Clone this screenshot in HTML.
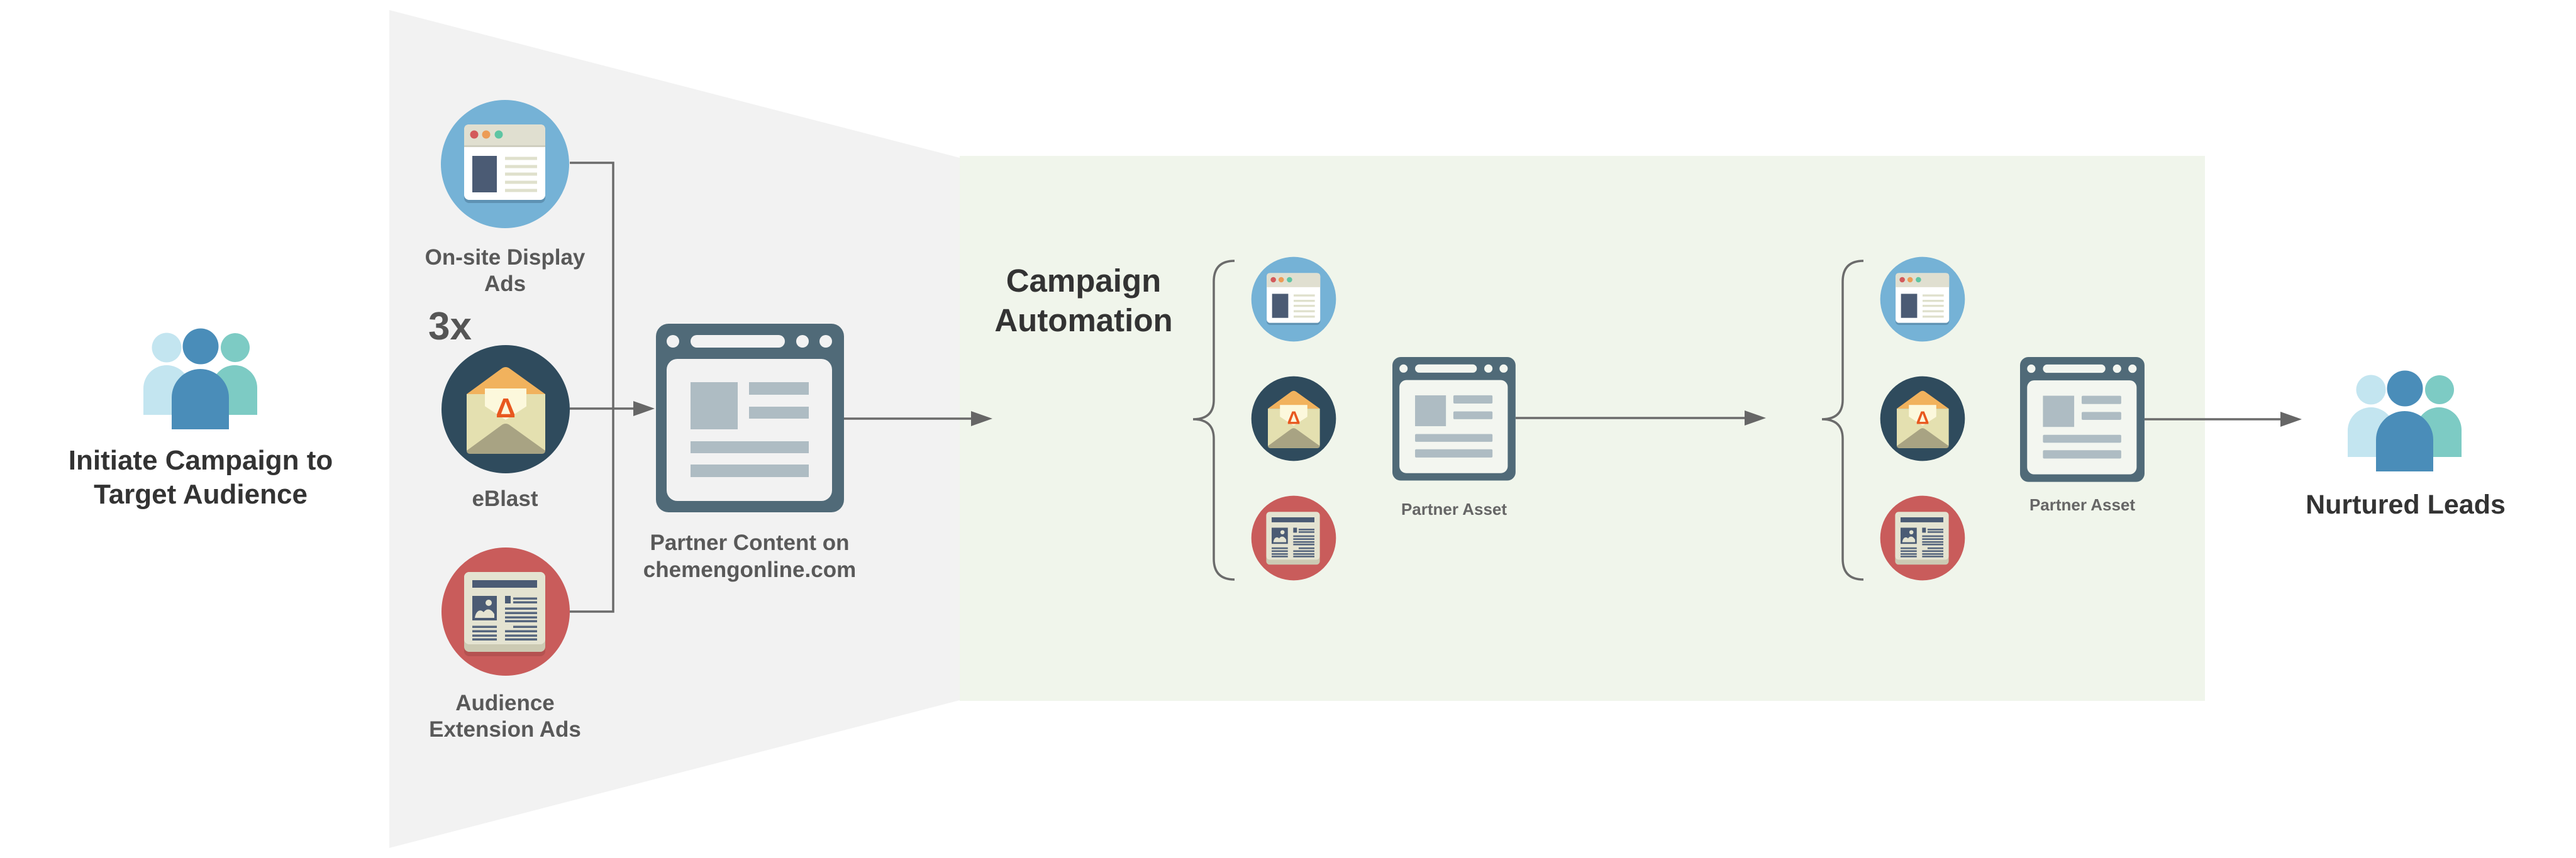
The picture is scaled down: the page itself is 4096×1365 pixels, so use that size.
<!DOCTYPE html>
<html>
<head>
<meta charset="utf-8">
<style>
html,body{margin:0;padding:0;background:#ffffff;width:4096px;height:1365px;overflow:hidden;}
svg{display:block;}
</style>
</head>
<body>
<svg width="4096" height="1365" viewBox="0 0 4096 1365" xmlns="http://www.w3.org/2000/svg" font-family="'Liberation Sans', Arial, sans-serif">
<rect x="0" y="0" width="4096" height="1365" fill="#ffffff"/>

<!-- gray funnel -->
<polygon points="619,16 1530,252 1530,1113 619,1349" fill="#f2f2f2"/>
<!-- green automation area -->
<rect x="1526" y="248" width="1980" height="867" fill="#f0f5eb"/>

<!-- LEFT PEOPLE -->
<g>
  <path d="M228,660 V618 A37,37 0 0 1 302,618 V660 Z" fill="#c3e5f0"/>
  <path d="M337,660 V617 A36,36 0 0 1 409,617 V660 Z" fill="#7dcbc4"/>
  <path d="M273,683 V632.5 A45.5,45.5 0 0 1 364,632.5 V683 Z" fill="#4a8db9"/>
  <circle cx="265" cy="553" r="23.5" fill="#c3e5f0"/>
  <circle cx="374" cy="553" r="23" fill="#7dcbc4"/>
  <circle cx="319" cy="551" r="28.5" fill="#4a8db9"/>
</g>
<text x="319" y="747" font-size="44" font-weight="bold" fill="#333333" text-anchor="middle">Initiate Campaign to</text>
<text x="319" y="801" font-size="44" font-weight="bold" fill="#333333" text-anchor="middle">Target Audience</text>

<!-- connectors -->
<g stroke="#6b6b6b" stroke-width="3.5" fill="none">
  <polyline points="906,259 975,259 975,973 906,973"/>
  <line x1="906" y1="650" x2="1010" y2="650"/>
  <line x1="1342" y1="666" x2="1548" y2="666"/>
  <line x1="2410" y1="665" x2="2778" y2="665"/>
  <line x1="3410" y1="667" x2="3630" y2="667"/>
</g>
<g fill="#666666">
  <polygon points="1007,638 1041,650 1007,662"/>
  <polygon points="1544,654 1578,666 1544,678"/>
  <polygon points="2774,653 2808,665 2774,677"/>
  <polygon points="3626,655 3660,667 3626,679"/>
</g>

<!-- BIG ICON: display ads -->
<g transform="translate(803,261)">
  <circle r="102" fill="#75b2d6"/>
  <rect x="-65" y="-58" width="129" height="120" rx="8" fill="#5e92b3"/>
  <rect x="-65" y="-63" width="129" height="120" rx="8" fill="#ffffff"/>
  <path d="M-65,-29 V-55 Q-65,-63 -57,-63 H56 Q64,-63 64,-55 V-29 Z" fill="#e0dfd0"/>
  <rect x="-65" y="-30" width="129" height="3" fill="#cfcebf"/>
  <circle cx="-49" cy="-47" r="6.5" fill="#d35a5b"/>
  <circle cx="-30" cy="-47" r="6.5" fill="#ec9c56"/>
  <circle cx="-10" cy="-47" r="6.5" fill="#5ec5a3"/>
  <rect x="-52" y="-13" width="39" height="58" fill="#4b5b74"/>
  <g fill="#dfe0cc">
    <rect x="0" y="-11.5" width="51" height="5"/>
    <rect x="0" y="1.5" width="51" height="5"/>
    <rect x="0" y="13.5" width="51" height="5"/>
    <rect x="0" y="26.5" width="51" height="5"/>
    <rect x="0" y="39.5" width="51" height="5"/>
  </g>
</g>
<text x="803" y="421" font-size="35" font-weight="bold" fill="#595959" text-anchor="middle">On-site Display</text>
<text x="803" y="463" font-size="35" font-weight="bold" fill="#595959" text-anchor="middle">Ads</text>

<text x="681" y="540" font-size="62" font-weight="bold" fill="#555555">3x</text>

<!-- BIG ICON: eBlast -->
<g transform="translate(804,651)">
  <circle r="102" fill="#2f4b5d"/>
  <path d="M-62,-24 L-6,-65 Q0,-69 6,-65 L63,-24 Z" fill="#f1b25d"/>
  <path d="M-62,-24 H63 V63 Q63,71 55,71 H-54 Q-62,71 -62,63 Z" fill="#e4e0b0"/>
  <rect x="-33" y="-33" width="66" height="60" fill="#fcf8dc"/>
  <path d="M-62,-24 L0,17 L63,-24 V63 Q63,71 55,71 H-54 Q-62,71 -62,63 Z" fill="#e4e0b0"/>
  <path d="M-62,66 L-6,25 Q0,21 6,25 L63,66 Q63,71 57,71 H-56 Q-62,71 -62,66 Z" fill="#a8a383"/>
  <text x="0" y="13" font-size="44" font-weight="bold" fill="#e8581f" text-anchor="middle">Δ</text>
</g>
<text x="803" y="805" font-size="35" font-weight="bold" fill="#595959" text-anchor="middle">eBlast</text>

<!-- BIG ICON: newspaper -->
<g transform="translate(804,973)">
  <circle r="102" fill="#c95c5b"/>
  <rect x="-66" y="-56" width="129" height="127" rx="8" fill="#a84b4b" opacity="0.6"/>
  <rect x="-66" y="-63" width="129" height="127" rx="8" fill="#cccab3"/>
  <rect x="-66" y="-63" width="129" height="115" rx="8" fill="#e4e3d1"/>
  <rect x="-53" y="-50" width="103" height="12" fill="#4b5b74"/>
  <rect x="-53" y="-25" width="39" height="39" fill="#4b5b74"/>
  <circle cx="-27" cy="-14" r="5" fill="#e4e3d1"/>
  <path d="M-49,10 C-47,-3 -39,-4 -35,1 C-31,-5 -24,-6 -18,4 V10 Z" fill="#e4e3d1"/>
  <rect x="-1" y="-25" width="9" height="12" fill="#4b5b74"/>
  <g fill="#56667e">
    <rect x="12" y="-22.5" width="38" height="3.5"/>
    <rect x="12" y="-16.5" width="38" height="3.5"/>
    <rect x="-1" y="-6.5" width="51" height="3.5"/>
    <rect x="-1" y="0.5" width="51" height="3.5"/>
    <rect x="-1" y="7.5" width="51" height="3.5"/>
    <rect x="-1" y="13.5" width="51" height="3.5"/>
    <rect x="12" y="22.5" width="38" height="3.5"/>
    <rect x="-1" y="29.5" width="51" height="3.5"/>
    <rect x="-1" y="36.5" width="51" height="3.5"/>
    <rect x="-1" y="42.5" width="51" height="3.5"/>
    <rect x="-53" y="22.5" width="39" height="3.5"/>
    <rect x="-53" y="29.5" width="39" height="3.5"/>
    <rect x="-53" y="36.5" width="39" height="3.5"/>
    <rect x="-53" y="42.5" width="39" height="3.5"/>
  </g>
</g>
<text x="803" y="1130" font-size="35" font-weight="bold" fill="#595959" text-anchor="middle">Audience</text>
<text x="803" y="1172" font-size="35" font-weight="bold" fill="#595959" text-anchor="middle">Extension Ads</text>

<!-- Partner Content browser -->
<g transform="translate(1043,515)">
  <rect x="0" y="0" width="299" height="300" rx="20" fill="#506a78"/>
  <circle cx="27" cy="28" r="10" fill="#f2f2f2"/>
  <rect x="55" y="18" width="150" height="20" rx="10" fill="#f2f2f2"/>
  <circle cx="233" cy="28" r="10" fill="#f2f2f2"/>
  <circle cx="270" cy="28" r="10" fill="#f2f2f2"/>
  <rect x="17" y="56" width="263" height="226" rx="17" fill="#f2f2f2"/>
  <g fill="#aebcc3">
    <rect x="55" y="93" width="75" height="75"/>
    <rect x="148" y="93" width="95" height="20"/>
    <rect x="148" y="132" width="95" height="19"/>
    <rect x="55" y="187" width="188" height="19"/>
    <rect x="55" y="224" width="188" height="20"/>
  </g>
</g>
<text x="1192" y="875" font-size="35" font-weight="bold" fill="#595959" text-anchor="middle">Partner Content on</text>
<text x="1192" y="918" font-size="35" font-weight="bold" fill="#595959" text-anchor="middle">chemengonline.com</text>

<!-- Campaign Automation -->
<text x="1723" y="464" font-size="51" font-weight="bold" fill="#333333" text-anchor="middle">Campaign</text>
<text x="1723" y="527" font-size="51" font-weight="bold" fill="#333333" text-anchor="middle">Automation</text>

<!-- Braces -->
<g stroke="#6b6b6b" stroke-width="3.5" fill="none">
  <path d="M1963,415 Q1930,415 1930,448 L1930,636 Q1930,667 1897,667 Q1930,667 1930,698 L1930,889 Q1930,922 1963,922"/>
  <path d="M2963,415 Q2930,415 2930,448 L2930,636 Q2930,667 2897,667 Q2930,667 2930,698 L2930,889 Q2930,922 2963,922"/>
</g>

<!-- Small icon set 1 -->
<g>
<g transform="translate(2057,476) scale(0.66)">
  <circle r="102" fill="#75b2d6"/>
  <rect x="-65" y="-58" width="129" height="120" rx="8" fill="#5e92b3"/>
  <rect x="-65" y="-63" width="129" height="120" rx="8" fill="#ffffff"/>
  <path d="M-65,-29 V-55 Q-65,-63 -57,-63 H56 Q64,-63 64,-55 V-29 Z" fill="#e0dfd0"/>
  <circle cx="-49" cy="-47" r="6.5" fill="#d35a5b"/>
  <circle cx="-30" cy="-47" r="6.5" fill="#ec9c56"/>
  <circle cx="-10" cy="-47" r="6.5" fill="#5ec5a3"/>
  <rect x="-52" y="-13" width="39" height="58" fill="#4b5b74"/>
  <g fill="#dfe0cc">
    <rect x="0" y="-11.5" width="51" height="5"/>
    <rect x="0" y="1.5" width="51" height="5"/>
    <rect x="0" y="13.5" width="51" height="5"/>
    <rect x="0" y="26.5" width="51" height="5"/>
    <rect x="0" y="39.5" width="51" height="5"/>
  </g>
</g>
<g transform="translate(2057,666) scale(0.66)">
  <circle r="102" fill="#2f4b5d"/>
  <path d="M-62,-24 L-6,-65 Q0,-69 6,-65 L63,-24 Z" fill="#f1b25d"/>
  <path d="M-62,-24 H63 V63 Q63,71 55,71 H-54 Q-62,71 -62,63 Z" fill="#e4e0b0"/>
  <rect x="-33" y="-33" width="66" height="60" fill="#fcf8dc"/>
  <path d="M-62,-24 L0,17 L63,-24 V63 Q63,71 55,71 H-54 Q-62,71 -62,63 Z" fill="#e4e0b0"/>
  <path d="M-62,66 L-6,25 Q0,21 6,25 L63,66 Q63,71 57,71 H-56 Q-62,71 -62,66 Z" fill="#a8a383"/>
  <text x="0" y="13" font-size="44" font-weight="bold" fill="#e8581f" text-anchor="middle">Δ</text>
</g>
<g transform="translate(2057,856) scale(0.66)">
  <circle r="102" fill="#c95c5b"/>
  <rect x="-66" y="-63" width="129" height="127" rx="8" fill="#cccab3"/>
  <rect x="-66" y="-63" width="129" height="115" rx="8" fill="#e4e3d1"/>
  <rect x="-53" y="-50" width="103" height="12" fill="#4b5b74"/>
  <rect x="-53" y="-25" width="39" height="39" fill="#4b5b74"/>
  <circle cx="-27" cy="-14" r="5" fill="#e4e3d1"/>
  <path d="M-49,10 C-47,-3 -39,-4 -35,1 C-31,-5 -24,-6 -18,4 V10 Z" fill="#e4e3d1"/>
  <rect x="-1" y="-25" width="9" height="12" fill="#4b5b74"/>
  <g fill="#56667e">
    <rect x="12" y="-22.5" width="38" height="4"/>
    <rect x="12" y="-16.5" width="38" height="4"/>
    <rect x="-1" y="-6.5" width="51" height="4"/>
    <rect x="-1" y="0.5" width="51" height="4"/>
    <rect x="-1" y="7.5" width="51" height="4"/>
    <rect x="-1" y="13.5" width="51" height="4"/>
    <rect x="12" y="22.5" width="38" height="4"/>
    <rect x="-1" y="29.5" width="51" height="4"/>
    <rect x="-1" y="36.5" width="51" height="4"/>
    <rect x="-1" y="42.5" width="51" height="4"/>
    <rect x="-53" y="22.5" width="39" height="4"/>
    <rect x="-53" y="29.5" width="39" height="4"/>
    <rect x="-53" y="36.5" width="39" height="4"/>
    <rect x="-53" y="42.5" width="39" height="4"/>
  </g>
</g>
</g>

<!-- Small icon set 2 -->
<g transform="translate(1000,0)">
<g transform="translate(2057,476) scale(0.66)">
  <circle r="102" fill="#75b2d6"/>
  <rect x="-65" y="-58" width="129" height="120" rx="8" fill="#5e92b3"/>
  <rect x="-65" y="-63" width="129" height="120" rx="8" fill="#ffffff"/>
  <path d="M-65,-29 V-55 Q-65,-63 -57,-63 H56 Q64,-63 64,-55 V-29 Z" fill="#e0dfd0"/>
  <circle cx="-49" cy="-47" r="6.5" fill="#d35a5b"/>
  <circle cx="-30" cy="-47" r="6.5" fill="#ec9c56"/>
  <circle cx="-10" cy="-47" r="6.5" fill="#5ec5a3"/>
  <rect x="-52" y="-13" width="39" height="58" fill="#4b5b74"/>
  <g fill="#dfe0cc">
    <rect x="0" y="-11.5" width="51" height="5"/>
    <rect x="0" y="1.5" width="51" height="5"/>
    <rect x="0" y="13.5" width="51" height="5"/>
    <rect x="0" y="26.5" width="51" height="5"/>
    <rect x="0" y="39.5" width="51" height="5"/>
  </g>
</g>
<g transform="translate(2057,666) scale(0.66)">
  <circle r="102" fill="#2f4b5d"/>
  <path d="M-62,-24 L-6,-65 Q0,-69 6,-65 L63,-24 Z" fill="#f1b25d"/>
  <path d="M-62,-24 H63 V63 Q63,71 55,71 H-54 Q-62,71 -62,63 Z" fill="#e4e0b0"/>
  <rect x="-33" y="-33" width="66" height="60" fill="#fcf8dc"/>
  <path d="M-62,-24 L0,17 L63,-24 V63 Q63,71 55,71 H-54 Q-62,71 -62,63 Z" fill="#e4e0b0"/>
  <path d="M-62,66 L-6,25 Q0,21 6,25 L63,66 Q63,71 57,71 H-56 Q-62,71 -62,66 Z" fill="#a8a383"/>
  <text x="0" y="13" font-size="44" font-weight="bold" fill="#e8581f" text-anchor="middle">Δ</text>
</g>
<g transform="translate(2057,856) scale(0.66)">
  <circle r="102" fill="#c95c5b"/>
  <rect x="-66" y="-63" width="129" height="127" rx="8" fill="#cccab3"/>
  <rect x="-66" y="-63" width="129" height="115" rx="8" fill="#e4e3d1"/>
  <rect x="-53" y="-50" width="103" height="12" fill="#4b5b74"/>
  <rect x="-53" y="-25" width="39" height="39" fill="#4b5b74"/>
  <circle cx="-27" cy="-14" r="5" fill="#e4e3d1"/>
  <path d="M-49,10 C-47,-3 -39,-4 -35,1 C-31,-5 -24,-6 -18,4 V10 Z" fill="#e4e3d1"/>
  <rect x="-1" y="-25" width="9" height="12" fill="#4b5b74"/>
  <g fill="#56667e">
    <rect x="12" y="-22.5" width="38" height="4"/>
    <rect x="12" y="-16.5" width="38" height="4"/>
    <rect x="-1" y="-6.5" width="51" height="4"/>
    <rect x="-1" y="0.5" width="51" height="4"/>
    <rect x="-1" y="7.5" width="51" height="4"/>
    <rect x="-1" y="13.5" width="51" height="4"/>
    <rect x="12" y="22.5" width="38" height="4"/>
    <rect x="-1" y="29.5" width="51" height="4"/>
    <rect x="-1" y="36.5" width="51" height="4"/>
    <rect x="-1" y="42.5" width="51" height="4"/>
    <rect x="-53" y="22.5" width="39" height="4"/>
    <rect x="-53" y="29.5" width="39" height="4"/>
    <rect x="-53" y="36.5" width="39" height="4"/>
    <rect x="-53" y="42.5" width="39" height="4"/>
  </g>
</g>
</g>

<!-- Partner Asset 1 -->
<g transform="translate(2214,568) scale(0.655)">
  <rect x="0" y="0" width="299" height="300" rx="20" fill="#506a78"/>
  <circle cx="27" cy="28" r="10" fill="#f3f6f0"/>
  <rect x="55" y="18" width="150" height="20" rx="10" fill="#f3f6f0"/>
  <circle cx="233" cy="28" r="10" fill="#f3f6f0"/>
  <circle cx="270" cy="28" r="10" fill="#f3f6f0"/>
  <rect x="17" y="56" width="263" height="226" rx="17" fill="#f3f6f0"/>
  <g fill="#aebcc3">
    <rect x="55" y="93" width="75" height="75"/>
    <rect x="148" y="93" width="95" height="20" rx="3"/>
    <rect x="148" y="132" width="95" height="19" rx="3"/>
    <rect x="55" y="187" width="188" height="19" rx="3"/>
    <rect x="55" y="224" width="188" height="20" rx="3"/>
  </g>
</g>
<text x="2312" y="819" font-size="26" font-weight="bold" fill="#666666" text-anchor="middle">Partner Asset</text>

<!-- Partner Asset 2 -->
<g transform="translate(3212,568) scale(0.662)">
  <rect x="0" y="0" width="299" height="300" rx="20" fill="#506a78"/>
  <circle cx="27" cy="28" r="10" fill="#f3f6f0"/>
  <rect x="55" y="18" width="150" height="20" rx="10" fill="#f3f6f0"/>
  <circle cx="233" cy="28" r="10" fill="#f3f6f0"/>
  <circle cx="270" cy="28" r="10" fill="#f3f6f0"/>
  <rect x="17" y="56" width="263" height="226" rx="17" fill="#f3f6f0"/>
  <g fill="#aebcc3">
    <rect x="55" y="93" width="75" height="75"/>
    <rect x="148" y="93" width="95" height="20" rx="3"/>
    <rect x="148" y="132" width="95" height="19" rx="3"/>
    <rect x="55" y="187" width="188" height="19" rx="3"/>
    <rect x="55" y="224" width="188" height="20" rx="3"/>
  </g>
</g>
<text x="3311" y="812" font-size="26" font-weight="bold" fill="#666666" text-anchor="middle">Partner Asset</text>

<!-- RIGHT PEOPLE -->
<g transform="translate(3505,67)">
  <path d="M228,660 V618 A37,37 0 0 1 302,618 V660 Z" fill="#c3e5f0"/>
  <path d="M337,660 V617 A36,36 0 0 1 409,617 V660 Z" fill="#7dcbc4"/>
  <path d="M273,683 V632.5 A45.5,45.5 0 0 1 364,632.5 V683 Z" fill="#4a8db9"/>
  <circle cx="265" cy="553" r="23.5" fill="#c3e5f0"/>
  <circle cx="374" cy="553" r="23" fill="#7dcbc4"/>
  <circle cx="319" cy="551" r="28.5" fill="#4a8db9"/>
</g>
<text x="3825" y="817" font-size="43" font-weight="bold" fill="#333333" text-anchor="middle">Nurtured Leads</text>

</svg>
</body>
</html>
